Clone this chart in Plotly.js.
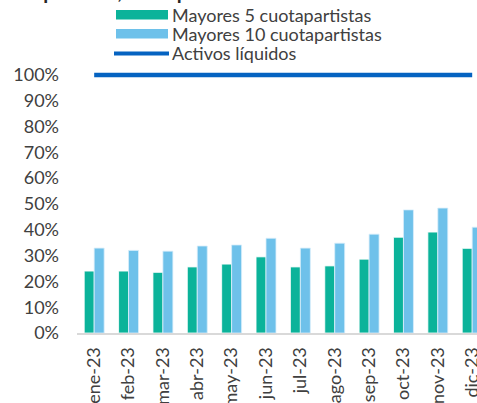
<!DOCTYPE html>
<html>
<head>
<meta charset="utf-8">
<script src="https://cdn.plot.ly/plotly-3.0.1.min.js"></script>
<style>html,body{margin:0;padding:0;background:#fff;}#chart{width:477px;height:403px;}</style>
</head>
<body>
<div id="chart"></div>
<script>
var months = ["ene-23","feb-23","mar-23","abr-23","may-23","jun-23","jul-23","ago-23","sep-23","oct-23","nov-23","dic-23"];
var top5 = [24.0, 24.0, 23.5, 25.6, 26.7, 29.5, 25.6, 26.0, 28.6, 37.1, 39.1, 32.8];
var top10 = [32.9, 32.0, 31.7, 33.7, 34.1, 36.7, 32.9, 34.8, 38.3, 47.7, 48.4, 41.0];
var liquid = [100, 100, 100, 100, 100, 100, 100, 100, 100, 100, 100, 100];
var seriesNames = ["Mayores 5 cuotapartistas", "Mayores 10 cuotapartistas", "Activos líquidos"];
var yTicks = [0,10,20,30,40,50,60,70,80,90,100];
var yTickText = yTicks.map(function(v){return v + "%";});
var titleText = "Composición, cuotapartistas";

var W = 477, H = 403;
var mL = 77, mR = 0, mT = 62, mB = 70;
var pw = W - mL - mR, ph = H - mT - mB;
function px(x){ return (x - mL) / pw; }
function py(y){ return (H - mB - y) / ph; }

var green = "#0BB39A", lblue = "#6EC1EA", dblue = "#0563C1";
var cats = months.map(function(m, i){ return i; });

var traces = [
  {type:"bar", x:cats, y:top5, name:seriesNames[0], marker:{color:green, line:{color:"#ffffff", width:0.8}}, showlegend:false, hoverinfo:"y"},
  {type:"bar", x:cats, y:top10, name:seriesNames[1], marker:{color:lblue, line:{color:"#d8eefa", width:0.8}}, showlegend:false, hoverinfo:"y"},
  {type:"scatter", mode:"lines", x:cats, y:liquid, name:seriesNames[2], line:{color:dblue, width:4.5}, showlegend:false, hoverinfo:"y", cliponaxis:false}
];

var shapes = [
  {type:"rect", xref:"paper", yref:"paper", x0:px(116), x1:px(168), y0:py(19.5), y1:py(10), fillcolor:green, line:{width:0}},
  {type:"rect", xref:"paper", yref:"paper", x0:px(116), x1:px(168), y0:py(38.5), y1:py(29), fillcolor:lblue, line:{width:0}},
  {type:"line", xref:"paper", yref:"paper", x0:px(114), x1:px(169), y0:py(53.5), y1:py(53.5), line:{color:dblue, width:4}}
];

var legY = [15, 34, 53];
var annotations = seriesNames.map(function(n, i){
  return {xref:"paper", yref:"paper", x:px(170), y:py(legY[i]), xanchor:"left", yanchor:"middle", text:n, showarrow:false, font:{family:"Lato", size:18, color:"#404040"}};
});
annotations.push({xref:"paper", yref:"paper", x:px(0), y:py(5), xanchor:"left", yanchor:"bottom", text:"<b>"+titleText+"</b>", showarrow:false, font:{family:"Lato", size:20, color:"#262626"}});

var layout = {
  width:W, height:H,
  margin:{l:mL, r:mR, t:mT, b:mB, pad:0},
  paper_bgcolor:"#ffffff", plot_bgcolor:"#ffffff",
  barmode:"group", bargap:0.42, bargroupgap:0,
  showlegend:false,
  font:{family:"Lato", size:18, color:"#404040"},
  xaxis:{
    type:"linear", range:[-0.5, 11.14], tickmode:"array", tickvals:cats, ticktext:months,
    tickangle:-90, showgrid:false, zeroline:false, showline:true, linecolor:"#D9D9D9", linewidth:2,
    ticks:"", ticklabelstandoff:5, ticklabeloverflow:"allow", tickfont:{family:"Lato", size:18, color:"#404040"}
  },
  yaxis:{
    range:[0, 105], tickmode:"array", tickvals:yTicks, ticktext:yTickText,
    showgrid:false, zeroline:false, showline:false, ticks:"", ticklabelstandoff:17,
    tickfont:{family:"Lato", size:18, color:"#404040"}
  },
  shapes:shapes,
  annotations:annotations
};

Plotly.newPlot("chart", traces, layout, {displayModeBar:false, staticPlot:true});
</script>
</body>
</html>
